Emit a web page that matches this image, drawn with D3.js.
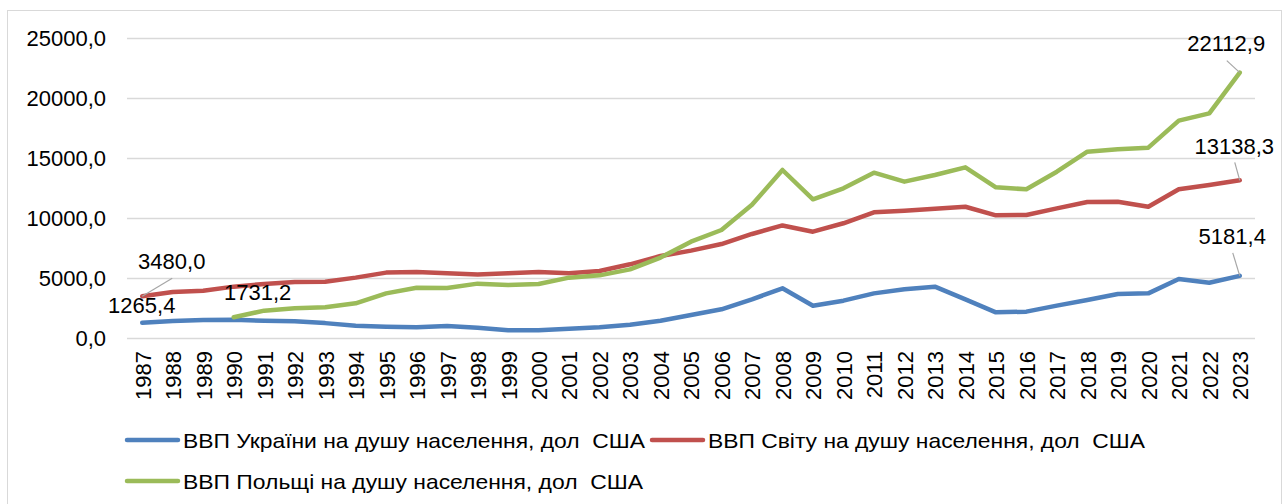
<!DOCTYPE html>
<html>
<head>
<meta charset="utf-8">
<script src="https://cdn.jsdelivr.net/npm/d3@7"></script>
<style>
  html, body { margin: 0; padding: 0; background: #ffffff; }
  svg { display: block; }
  text { font-family: "Liberation Sans", Arial, sans-serif; fill: #000; }
</style>
</head>
<body>
<svg id="chart" width="1283" height="504"></svg>
<script>
// ---- data ----
const years = d3.range(1987, 2024).map(String);

const ukraine = [1265.4, 1420, 1500, 1520, 1440, 1390, 1240, 1030, 945, 890,
  1010, 860, 640, 640, 780, 890, 1110, 1440, 1920, 2390,
  3220, 4140, 2690, 3110, 3720, 4055, 4280, 3220, 2140, 2195,
  2700, 3170, 3670, 3720, 4920, 4610, 5181.4];

const world = [3480.0, 3830, 3940, 4280, 4500, 4670, 4690, 5030, 5450, 5500,
  5390, 5300, 5390, 5500, 5390, 5580, 6140, 6830, 7280, 7830,
  8670, 9380, 8860, 9560, 10470, 10610, 10780, 10940, 10220, 10250,
  10800, 11330, 11360, 10940, 12390, 12750, 13138.3];

const poland = [null, null, null, 1731.2, 2280, 2470, 2560, 2890, 3720, 4190,
  4170, 4530, 4420, 4500, 5030, 5220, 5720, 6700, 8030, 9000,
  11100, 14000, 11560, 12470, 13780, 13030, 13580, 14220, 12560, 12390,
  13860, 15530, 15720, 15860, 18110, 18720, 22112.9];

const yTicks = [0, 5000, 10000, 15000, 20000, 25000];

const seriesNames = [
  "ВВП України на душу населення, дол  США",
  "ВВП Світу на душу населення, дол  США",
  "ВВП Польщі на душу населення, дол  США"
];

// ---- styles / layout ----
const colors = ["#4F81BD", "#C0504D", "#9BBB59"];
const seriesValues = [ukraine, world, poland];

const svg = d3.select("#chart");
const plot = { left: 127, right: 1255, top: 38, bottom: 338 };

const x = d3.scalePoint().domain(years).range([plot.left, plot.right]).padding(0.5);
const y = d3.scaleLinear().domain([0, 25000]).range([plot.bottom, plot.top]);
const fmt = v => d3.format(".1f")(v).replace(".", ",");

// outer border
svg.append("rect")
  .attr("x", 7.5).attr("y", 10.5).attr("width", 1274).attr("height", 500)
  .attr("fill", "none").attr("stroke", "#d9d9d9").attr("stroke-width", 1);

// gridlines
svg.append("g").selectAll("line").data(yTicks).join("line")
  .attr("x1", plot.left).attr("x2", plot.right)
  .attr("y1", d => Math.round(y(d)) + 0.5).attr("y2", d => Math.round(y(d)) + 0.5)
  .attr("stroke", "#d9d9d9").attr("stroke-width", 1.5);

// y axis
const yAxis = svg.append("g")
  .attr("transform", `translate(${plot.left - 21},0)`)
  .call(d3.axisLeft(y).tickValues(yTicks).tickSize(0).tickPadding(0).tickFormat(fmt));
yAxis.select(".domain").remove();
yAxis.selectAll("text")
  .style("font-family", "'Liberation Sans', Arial, sans-serif")
  .style("font-size", "22px").attr("fill", "#000").attr("dy", "0.36em");

// x axis
const xAxis = svg.append("g")
  .attr("transform", `translate(0,${plot.bottom})`)
  .call(d3.axisBottom(x).tickSize(0).tickPadding(0));
xAxis.select(".domain").remove();
xAxis.selectAll("text")
  .style("font-family", "'Liberation Sans', Arial, sans-serif")
  .style("font-size", "22px").attr("fill", "#000")
  .attr("text-anchor", "end")
  .attr("transform", "rotate(-90)")
  .attr("x", -13).attr("y", 0).attr("dy", "0.36em");

// lines
const line = d3.line()
  .defined(d => d != null)
  .x((d, i) => x(years[i]))
  .y(d => y(d));

// draw order: blue, red, green (green on top)
[0, 1, 2].forEach(k => {
  svg.append("path")
    .datum(seriesValues[k])
    .attr("d", line)
    .attr("fill", "none")
    .attr("stroke", colors[k])
    .attr("stroke-width", 4.5)
    .attr("stroke-linejoin", "round")
    .attr("stroke-linecap", "round");
});

// data labels (series index, year index, label offsets, leader line end offsets)
const labels = [
  { s: 2, i: 36, dx: -13.5, dy: -21.5, lx: -13, ly: -12 },
  { s: 1, i: 36, dx: -5.5, dy: -26, lx: -5, ly: -18 },
  { s: 0, i: 36, dx: -7.5, dy: -32, lx: -7, ly: -23 },
  { s: 1, i: 0, dx: 29.5, dy: -27, lx: 30, ly: -18 },
  { s: 0, i: 0, dx: -0.5, dy: -10, lx: null, ly: null },
  { s: 2, i: 3, dx: 24, dy: -17, lx: null, ly: null }
];

labels.forEach(l => {
  const v = seriesValues[l.s][l.i];
  const px = x(years[l.i]), py = y(v);
  if (l.lx != null) {
    svg.append("line")
      .attr("x1", px).attr("y1", py)
      .attr("x2", px + l.lx).attr("y2", py + l.ly)
      .attr("stroke", "#a6a6a6").attr("stroke-width", 1.2);
  }
  svg.append("text")
    .attr("x", px + l.dx).attr("y", py + l.dy)
    .attr("text-anchor", "middle")
    .style("font-size", "22px")
    .text(fmt(v));
});

// legend
const legendItems = [
  { k: 0, x: 127, y: 440, w: 462 },
  { k: 1, x: 652, y: 440, w: 437 },
  { k: 2, x: 127, y: 481, w: 460 }
];
const lg = svg.append("g");
legendItems.forEach(it => {
  lg.append("line")
    .attr("x1", it.x).attr("x2", it.x + 51)
    .attr("y1", it.y).attr("y2", it.y)
    .attr("stroke", colors[it.k]).attr("stroke-width", 4.5)
    .attr("stroke-linecap", "round");
  lg.append("text")
    .attr("x", it.x + 56).attr("y", it.y).attr("dy", "0.36em")
    .style("font-size", "21px")
    .attr("textLength", it.w).attr("lengthAdjust", "spacingAndGlyphs")
    .style("white-space", "pre")
    .attr("xml:space", "preserve")
    .text(seriesNames[it.k]);
});
</script>
</body>
</html>
